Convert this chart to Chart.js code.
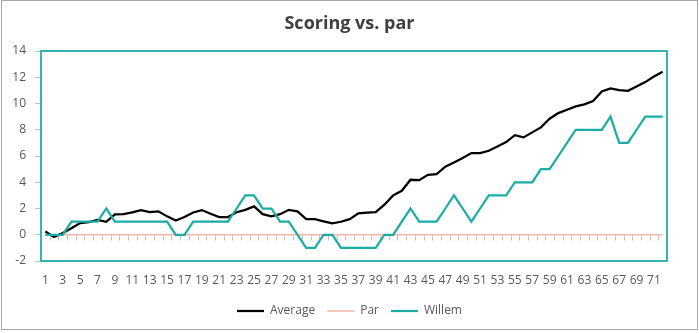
<!DOCTYPE html>
<html>
<head>
<meta charset="utf-8">
<script src="https://cdn.jsdelivr.net/npm/chart.js@4.4.1/dist/chart.umd.min.js"></script>
<style>
  html, body { margin: 0; padding: 0; background: #ffffff; }
  #wrap { position: relative; width: 699px; height: 333px; }
</style>
</head>
<body>
<div id="wrap"><canvas id="chart" width="699" height="333"></canvas></div>
<script>
// Round numbers (holes) and cumulative score relative to par
const holes = ['1','2','3','4','5','6','7','8','9','10','11','12','13','14','15','16','17','18',
  '19','20','21','22','23','24','25','26','27','28','29','30','31','32','33','34','35','36',
  '37','38','39','40','41','42','43','44','45','46','47','48','49','50','51','52','53','54',
  '55','56','57','58','59','60','61','62','63','64','65','66','67','68','69','70','71','72'];

const average = [0.25,-0.17,0.13,0.5,0.89,0.96,1.14,0.99,1.55,1.57,
  1.7,1.88,1.73,1.78,1.4,1.09,1.35,1.7,1.88,1.6,
  1.35,1.35,1.72,1.9,2.16,1.57,1.4,1.57,1.9,1.78,
  1.19,1.19,1.02,0.86,0.99,1.19,1.63,1.68,1.73,2.29,
  3.0,3.35,4.19,4.16,4.57,4.62,5.18,5.51,5.85,6.22,
  6.22,6.4,6.73,7.06,7.59,7.42,7.8,8.18,8.84,9.27,
  9.52,9.78,9.93,10.19,10.92,11.15,11.02,10.97,11.3,11.63,12.06,12.42];

const par = [0,0,0,0,0,0,0,0,0,0,0,0,0,0,0,0,0,0,0,0,0,0,0,0,
  0,0,0,0,0,0,0,0,0,0,0,0,0,0,0,0,0,0,0,0,0,0,0,0,
  0,0,0,0,0,0,0,0,0,0,0,0,0,0,0,0,0,0,0,0,0,0,0,0];

const willem = [0,0,0,1,1,1,1,2,1,1,
  1,1,1,1,1,0,0,1,1,1,
  1,1,2,3,3,2,2,1,1,0,
  -1,-1,0,0,-1,-1,-1,-1,-1,0,
  0,1,2,1,1,1,2,3,2,1,
  2,3,3,3,4,4,4,5,5,6,
  7,8,8,8,8,9,7,7,8,9,9,9];

const yTicks = { min: -2, max: 14, step: 2 };

const FONT = "'Open Sans', 'Noto Sans', sans-serif";
const TEXT = '#595959';

// Frame around the whole chart, frame around the plot area, and the
// small category ticks that sit on the zero line.
const decorations = {
  id: 'decorations',
  beforeDatasetsDraw(chart) {
    const { ctx, scales: { x, y } } = chart;
    const y0 = Math.round(y.getPixelForValue(0)) + 0.5;
    ctx.save();
    ctx.strokeStyle = '#bfbfbf';
    ctx.lineWidth = 1;
    ctx.beginPath();
    const n = holes.length;
    for (let i = 1; i < n; i++) {
      const px = Math.round((x.getPixelForValue(i - 1) + x.getPixelForValue(i)) / 2) + 0.5;
      ctx.moveTo(px, y0);
      ctx.lineTo(px, y0 + 5);
    }
    ctx.stroke();
    ctx.restore();
  },
  afterDraw(chart) {
    const { ctx, chartArea: a } = chart;
    ctx.save();
    ctx.strokeStyle = '#35b5ae';
    ctx.lineWidth = 2;
    ctx.strokeRect(a.left, a.top, a.right - a.left, a.bottom - a.top);
    ctx.strokeStyle = '#a6a6a6';
    ctx.lineWidth = 1;
    ctx.strokeRect(1.5, 0.5, 696, 329);
    ctx.restore();
  }
};

new Chart(document.getElementById('chart'), {
  type: 'line',
  data: {
    labels: holes,
    datasets: [
      { label: 'Average', data: average, borderColor: '#000000', backgroundColor: '#000000',
        borderWidth: 2.25, pointRadius: 0, tension: 0, order: 2 },
      { label: 'Par', data: par, borderColor: '#f4b5a5', backgroundColor: '#f4b5a5',
        borderWidth: 1.5, pointRadius: 0, tension: 0, order: 1 },
      { label: 'Willem', data: willem, borderColor: '#1aaca5', backgroundColor: '#1aaca5',
        borderWidth: 2.25, pointRadius: 0, tension: 0, order: 0 }
    ]
  },
  options: {
    responsive: false,
    animation: false,
    events: [],
    layout: { padding: { left: 0, right: 0, top: 0, bottom: 6 } },
    plugins: {
      title: {
        display: true, text: 'Scoring vs. par', color: '#404040',
        font: { family: FONT, size: 18, weight: 'bold' },
        padding: { top: 13, bottom: 16.4 }
      },
      legend: {
        position: 'bottom',
        labels: {
          usePointStyle: true, pointStyle: 'line', pointStyleWidth: 27,
          color: TEXT, font: { family: FONT, size: 12 }, padding: 12,
          sort: (a, b) => a.datasetIndex - b.datasetIndex
        }
      },
      tooltip: { enabled: false }
    },
    scales: {
      x: {
        type: 'category',
        offset: true,
        grid: { display: false },
        border: { display: false },
        ticks: {
          autoSkip: false, maxRotation: 0, padding: 4,
          color: TEXT, font: { family: FONT, size: 12 },
          callback: (v, i) => (i % 2 === 0 ? holes[i] : '')
        },
        afterFit: (s) => { s.height = 32; }
      },
      y: {
        min: yTicks.min, max: yTicks.max,
        grid: { drawOnChartArea: false, drawTicks: true, tickLength: 6, color: '#bfbfbf' },
        border: { display: false },
        ticks: { stepSize: yTicks.step, padding: 9, color: TEXT, font: { family: FONT, size: 12 } },
        afterFit: (s) => { s.width = 41; }
      },
      // empty right-hand margin so the plot area ends where the frame does
      yRight: {
        position: 'right',
        display: true,
        grid: { display: false },
        border: { display: false },
        ticks: { display: false },
        afterFit: (s) => { s.width = 32; }
      }
    }
  },
  plugins: [decorations]
});
</script>
</body>
</html>
